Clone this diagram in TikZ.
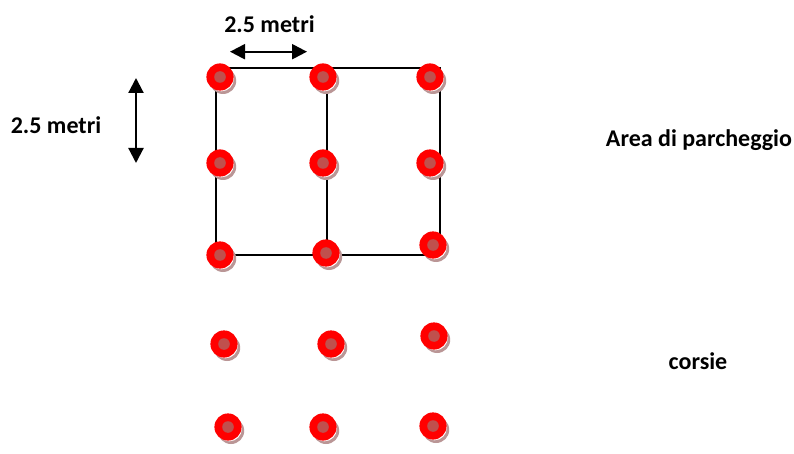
\documentclass[tikz,border=0pt]{standalone}
\usepackage{fontspec}
\setmainfont{Carlito}
\usetikzlibrary{arrows.meta}
\definecolor{dotred}{RGB}{255,0,0}
\definecolor{dotcore}{RGB}{192,80,77}
\definecolor{dotshadow}{RGB}{186,150,150}
\tikzset{
  x=1pt,y=-1pt,
  lbl/.style={font=\fontsize{24}{26}\selectfont\bfseries,text=black,inner sep=0pt},
  gridline/.style={draw=black,line width=2pt},
  dim/.style={draw=black,line width=2.2pt,{Triangle[length=15pt,width=15pt]}-{Triangle[length=15pt,width=15pt]},shorten <=0pt,shorten >=0pt},
  pt/.pic={
    \fill[dotshadow] (3,3.8) circle (13.2);
    \fill[white] (1.3,1.7) circle (12.6);
    \fill[dotred] (0,0) circle (13.6);
    \fill[dotcore] (0,0) circle (5.8);
  }
}
\begin{document}
\begin{tikzpicture}
\useasboundingbox (0,0) rectangle (794,454);
\fill[white] (0,0) rectangle (794,454);
% grid lines
\coordinate (tl) at (216,68);
\coordinate (tm) at (327,68);
\coordinate (tr) at (440,68);
\coordinate (bl) at (216,255);
\coordinate (bm) at (327,255);
\coordinate (br) at (440,245);
\coordinate (bbr) at (430,255);
\draw[gridline] (tl) -- (tr) -- (br);
\draw[gridline] (tl) -- (bl) -- (bbr);
\draw[gridline] (tm) -- (bm);
% dots
\foreach \n/\x/\y in {a1/220/77,a2/323/77,a3/430/77,
                      b1/220/163,b2/323/163,b3/430/163,
                      c1/220/255,c2/326/253,c3/433/245,
                      d1/224/344,d2/331/344,d3/434/336,
                      e1/228/427,e2/323/427,e3/433/426}
  \pic (\n) at (\x,\y) {pt};
% dimension arrows
\coordinate (hl) at (230,51.7);
\coordinate (hr) at (307,51.7);
\coordinate (vt) at (136,78);
\coordinate (vb) at (136,163);
\draw[dim] (hl) -- (hr);
\draw[dim] (vt) -- (vb);
% labels
\node[lbl] (dimh) at (269.5,24) {2.5 metri};
\node[lbl] (dimv) at (56,125) {2.5 metri};
\node[lbl] (area) at (699,140.5) {Area di parcheggio};
\node[lbl] (cors) at (698,361) {corsie};
\end{tikzpicture}
\end{document}
